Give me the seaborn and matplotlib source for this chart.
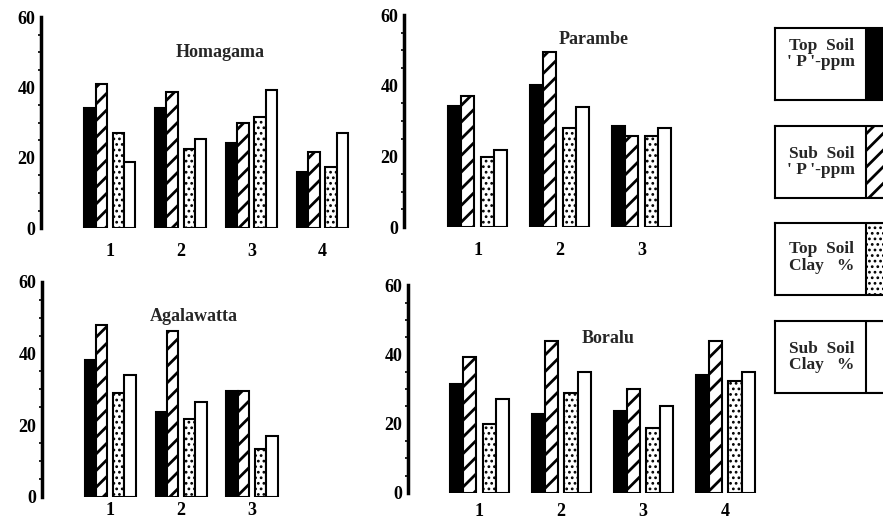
import numpy as np
import pandas as pd
import matplotlib
matplotlib.use("Agg")
import matplotlib.pyplot as plt
import seaborn as sns
from matplotlib.patches import Rectangle

# ---- data ----
series = ["Top Soil P-ppm", "Sub Soil P-ppm", "Top Soil Clay %", "Sub Soil Clay %"]

homagama_top_p = [34.3, 34.3, 24.3, 16.0]
homagama_sub_p = [40.9, 38.6, 30.0, 21.7]
homagama_top_clay = [27.1, 22.6, 31.7, 17.4]
homagama_sub_clay = [18.9, 25.4, 39.4, 27.1]

parambe_top_p = [34.3, 40.3, 28.7]
parambe_sub_p = [37.2, 49.6, 25.9]
parambe_top_clay = [19.9, 28.1, 25.9]
parambe_sub_clay = [21.8, 34.0, 28.1]

agalawatta_top_p = [38.1, 23.8, 29.5]
agalawatta_sub_p = [48.1, 46.4, 29.5]
agalawatta_top_clay = [28.9, 21.7, 13.3]
agalawatta_sub_clay = [34.0, 26.4, 17.0]

boralu_top_p = [31.6, 22.8, 23.6, 34.0]
boralu_sub_p = [39.4, 44.0, 29.9, 43.8]
boralu_top_clay = [19.9, 29.0, 18.9, 32.2]
boralu_sub_clay = [27.1, 34.9, 25.1, 34.9]

legend_text = ["Top  Soil\n' P '-ppm", "Sub  Soil\n' P '-ppm",
               "Top  Soil\nClay   %", "Sub  Soil\nClay   %"]

# ---- styling ----
sns.set_style("white")
plt.rcParams["font.family"] = ["Liberation Serif", "DejaVu Serif"]
plt.rcParams["font.weight"] = "bold"
plt.rcParams["hatch.linewidth"] = 2.0

faces = ["black", "white", "white", "white"]
hatches = [None, "//", "...", None]
bar_w = 0.16
pair_gap = 0.08


def style_hatch(p, i):
    if hatches[i]:
        p.set_hatch(hatches[i])
        if i == 2 and hasattr(p, "set_hatch_linewidth"):
            p.set_hatch_linewidth(1.2)


def panel_frame(top_p, sub_p, top_clay, sub_clay):
    n = len(top_p)
    cats = [str(i + 1) for i in range(n)]
    rows = []
    for name, vals in zip(series, [top_p, sub_p, top_clay, sub_clay]):
        for c, v in zip(cats, vals):
            rows.append({"site": c, "series": name, "value": v})
    return pd.DataFrame(rows), cats


def draw_panel(rect, title, title_pos, xlim, xpad, data):
    ax = fig.add_axes(rect)
    df, cats = panel_frame(*data)
    sns.barplot(data=df, x="site", y="value", hue="series", hue_order=series,
                order=cats, palette=faces, width=4 * bar_w, errorbar=None,
                edgecolor="black", linewidth=1.5, legend=False, ax=ax)
    for i, cont in enumerate(ax.containers):
        shift = -pair_gap / 2 if i < 2 else pair_gap / 2
        for p in cont.patches:
            p.set_x(p.get_x() + shift)
            style_hatch(p, i)
    ax.set_xlim(*xlim)
    ax.set_ylim(0, 60)
    ax.set_yticks([0, 20, 40, 60])
    ax.set_yticks(np.arange(0, 61, 5), minor=True)
    ax.set_xlabel("")
    ax.set_ylabel("")
    for s in ["top", "right", "bottom"]:
        ax.spines[s].set_visible(False)
    ax.spines["left"].set_linewidth(2.5)
    ax.spines["left"].set_color("black")
    ax.tick_params(axis="y", which="major", direction="out", length=3, width=1.5,
                   pad=1, labelsize=13, colors="black")
    ax.tick_params(axis="y", which="minor", direction="out", length=2, width=1.2,
                   left=True, colors="black")
    ax.tick_params(axis="x", length=0, pad=xpad, labelsize=13, colors="black")
    ax.set_facecolor("none")
    ax.text(title_pos[0], title_pos[1], title, transform=ax.transAxes,
            ha="center", va="center", fontsize=13, fontweight="bold")
    return ax


fig = plt.figure(figsize=(8.83, 5.22), dpi=100)

draw_panel([0.0464, 0.563, 0.355, 0.404], "Homagama", (0.57, 0.834), (-0.97, 3.45), 11,
           (homagama_top_p, homagama_sub_p, homagama_top_clay, homagama_sub_clay))
draw_panel([0.4575, 0.565, 0.325, 0.406], "Parambe", (0.66, 0.887), (-0.9, 2.6), 11,
           (parambe_top_p, parambe_sub_p, parambe_top_clay, parambe_sub_clay))
draw_panel([0.0476, 0.048, 0.286, 0.412], "Agalawatta", (0.60, 0.837), (-0.96, 2.6), 4,
           (agalawatta_top_p, agalawatta_sub_p, agalawatta_top_clay, agalawatta_sub_clay))
draw_panel([0.462, 0.0556, 0.401, 0.398], "Boralu", (0.565, 0.745), (-0.87, 3.45), 7,
           (boralu_top_p, boralu_sub_p, boralu_top_clay, boralu_sub_clay))

# ---- legend boxes on the right ----
box_bottoms = [0.808, 0.621, 0.435, 0.247]
text_y = [0.64, 0.50, 0.52, 0.50]
for i, (txt, b) in enumerate(zip(legend_text, box_bottoms)):
    lax = fig.add_axes([0.8777, b, 0.125, 0.138])
    lax.set_xlim(0, 1)
    lax.set_ylim(0, 1)
    lax.set_xticks([])
    lax.set_yticks([])
    for s in lax.spines.values():
        s.set_linewidth(1.5)
        s.set_color("black")
    sw = Rectangle((0.82, 0), 0.18, 1, facecolor=faces[i],
                   edgecolor="black", linewidth=1.5)
    style_hatch(sw, i)
    lax.add_patch(sw)
    lax.text(0.42, text_y[i], txt, ha="center", va="center", fontsize=12.5,
             fontweight="bold", linespacing=1.05)

fig.savefig("out.png", dpi=100)
